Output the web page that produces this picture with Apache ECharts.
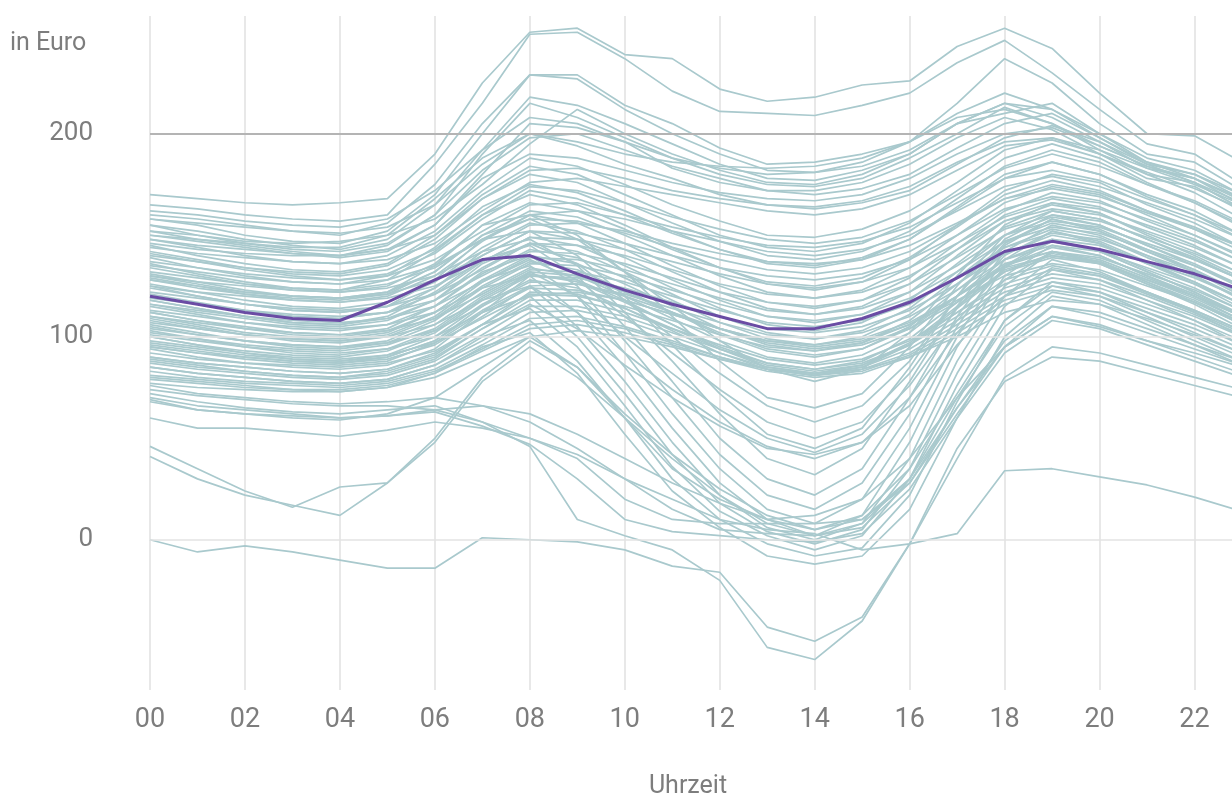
<!DOCTYPE html>
<html><head><meta charset="utf-8">
<script src="https://cdn.jsdelivr.net/npm/echarts@6/dist/echarts.min.js"></script>
<style>html,body{margin:0;padding:0;background:#fff;overflow:hidden;width:1232px;height:799px}#c{width:1242px;height:799px}</style>
</head><body><div id="c"></div>
<script>
const hours = ['00','01','02','03','04','05','06','07','08','09','10','11','12','13','14','15','16','17','18','19','20','21','22','23'];
const yTicks = [0, 100, 200];
const avgPrice = [120,116,112,109,108,117,128,138,140,131,123,116,110,104,104,109,117,129,142,147,143,137,131,123];

const topDays = [
  [170,168,166,165,166,168,190,225,250,252,239,237,222,216,218,224,226,243,252,242,220,200,199,186],
  [165,163,160,158,157,160,185,215,249,250,237,221,211,210,209,214,220,235,246,230,212,195,190,175],
  [160,158,155,152,150,156,175,205,229,229,214,205,193,185,186,190,196,215,237,225,205,190,186,172],
  [158,155,150,147,146,152,170,200,229,227,212,200,190,182,181,186,196,210,220,212,198,185,180,168],
  [155,152,148,145,143,148,165,192,218,214,205,195,185,178,177,182,190,205,215,208,196,183,178,165],
  [150,148,145,142,140,145,160,190,215,208,198,188,180,175,174,178,188,200,213,205,192,180,176,163],
  [152,150,147,146,147,150,158,175,195,212,200,190,182,176,175,180,190,205,210,215,200,186,180,170],
  [148,145,143,141,140,143,155,180,205,203,196,183,176,172,172,176,185,198,208,202,190,178,174,162]
];
const upperDays = [
  [162,160,157,155,154,158,172,192,208,205,196,188,183,180,181,184,192,205,215,212,200,188,182,170],
  [158,156,154,152,151,154,165,185,200,196,190,186,184,183,184,188,196,208,212,205,194,184,178,168],
  [155,150,146,143,142,146,160,182,198,200,192,184,178,172,170,173,180,193,205,210,198,186,178,167],
  [152,148,146,144,144,150,168,188,200,194,185,178,170,165,163,166,172,185,198,204,196,185,176,163],
  [150,147,144,141,139,142,155,178,190,188,182,176,171,168,167,170,178,190,200,203,194,184,176,166],
  [148,144,140,137,136,140,152,172,188,184,175,165,157,150,149,153,162,176,192,198,190,180,171,158],
  [146,143,141,140,140,143,150,168,182,183,178,172,168,165,164,167,174,186,196,198,192,183,175,165],
  [145,140,136,133,132,136,150,170,184,180,170,160,150,144,142,146,156,172,188,195,188,176,166,155],
  [144,141,139,137,136,138,146,162,176,178,174,170,166,162,160,163,170,182,194,197,190,181,173,163],
  [142,138,134,132,131,135,148,168,180,176,166,156,147,140,138,142,152,168,184,192,186,175,166,154],
  [141,137,134,131,130,133,143,160,174,172,166,159,153,148,146,149,157,170,183,190,184,175,167,156],
  [140,137,133,130,128,131,141,158,172,168,160,151,143,137,135,139,148,163,178,186,180,170,162,150]
];
const middleDays = [
  [139,134,130,127,126,130,144,164,175,171,162,152,143,136,134,138,148,164,180,186,180,169,160,148],
  [137,134,131,129,128,130,138,152,165,166,160,154,149,145,144,147,154,166,178,182,177,168,160,150],
  [136,131,127,124,123,128,142,160,170,165,155,144,134,126,123,127,138,155,172,180,176,165,156,144],
  [135,132,129,127,126,128,135,148,160,162,158,152,147,142,140,143,150,162,174,179,174,166,158,148],
  [134,130,126,123,122,125,136,155,166,162,153,143,134,127,125,129,139,154,170,177,172,162,153,142],
  [132,129,126,124,123,126,134,148,158,157,151,144,138,133,131,134,142,155,168,175,171,162,154,144],
  [131,127,123,120,119,122,132,150,162,159,150,140,130,122,119,123,134,150,166,174,170,160,150,139],
  [130,127,125,123,122,124,130,142,155,156,152,146,141,137,136,138,145,156,168,173,169,161,153,144],
  [129,125,121,118,117,120,130,147,160,156,146,135,125,117,114,118,129,146,162,171,167,157,148,137],
  [128,125,122,120,119,121,128,140,152,151,146,140,134,130,128,131,138,150,163,169,166,158,150,140],
  [126,122,118,115,114,117,127,144,156,152,143,132,122,114,111,115,126,143,160,168,164,154,145,134],
  [125,122,120,118,117,119,125,137,149,148,143,137,131,126,124,127,134,146,159,166,163,155,147,137],
  [124,120,116,113,112,115,124,140,152,148,139,128,118,110,107,111,122,140,157,165,161,151,142,131],
  [122,119,116,114,113,115,121,133,146,145,140,133,126,121,119,122,130,143,157,163,160,152,144,134],
  [121,117,113,110,109,112,121,137,149,145,135,124,114,106,103,107,118,136,154,162,158,148,139,128],
  [119,116,113,111,110,112,118,130,142,141,136,129,122,117,115,118,126,139,153,160,157,149,141,131],
  [118,114,110,107,106,109,118,134,146,142,132,121,110,102,99,103,114,132,150,159,155,145,136,125],
  [116,113,110,108,107,109,115,127,139,138,133,126,119,113,111,114,122,135,150,157,154,146,138,128],
  [115,111,107,104,103,106,115,131,143,139,129,118,107,99,96,100,111,129,147,156,152,142,133,122],
  [113,110,107,105,104,106,112,124,136,135,130,123,116,110,108,111,119,132,147,154,151,143,135,125],
  [112,108,104,101,100,103,112,128,140,136,126,115,104,96,93,97,108,126,144,153,149,139,130,119],
  [110,107,104,102,101,103,109,121,133,132,127,120,113,107,105,108,116,129,144,151,148,140,132,122],
  [109,105,101,98,97,100,109,125,137,133,123,112,101,93,90,94,105,123,141,150,146,136,127,116],
  [107,104,101,99,98,100,106,118,130,129,124,117,110,104,102,105,113,126,141,148,145,137,129,119],
  [106,102,98,95,94,97,106,122,134,130,120,109,98,90,87,91,102,120,138,147,143,133,124,113],
  [104,101,98,96,95,97,103,115,127,126,121,114,107,101,99,102,110,123,138,145,142,134,126,116],
  [103,99,95,92,91,94,103,119,131,127,117,106,95,87,84,88,99,117,135,144,140,130,121,110],
  [101,98,95,93,92,94,100,112,124,123,118,111,104,98,96,99,107,120,135,142,139,131,123,113],
  [100,96,92,89,88,91,100,116,128,124,114,103,92,84,81,85,96,114,132,141,137,127,118,107],
  [98,95,92,90,89,91,97,109,121,120,115,108,101,95,93,96,104,117,132,139,136,128,120,110]
];
const lowerDays = [
  [97,94,91,89,88,90,98,115,132,130,122,112,102,94,91,94,104,120,136,142,138,129,120,110],
  [95,92,90,88,87,89,96,110,125,126,120,112,104,97,94,97,106,120,134,140,137,128,119,108],
  [94,90,87,85,84,86,94,112,130,128,118,106,94,85,82,86,97,115,133,140,136,126,117,106],
  [92,89,87,86,85,87,93,106,120,122,118,111,104,98,95,98,106,118,130,136,133,125,117,107],
  [90,87,85,83,82,84,91,106,122,121,114,104,94,86,83,86,96,112,128,135,131,122,113,103],
  [89,86,83,81,80,82,89,104,118,118,112,104,96,89,86,89,98,112,126,133,130,122,113,103],
  [87,84,82,80,79,81,88,101,115,115,110,102,94,87,84,87,96,110,124,131,128,120,111,101],
  [85,82,80,78,77,79,86,98,112,113,108,100,92,85,82,85,94,108,122,129,126,118,110,100],
  [83,80,78,77,76,78,84,96,109,110,105,98,90,84,81,84,92,106,120,127,124,116,108,98],
  [81,79,77,76,75,77,83,94,106,108,104,97,90,84,81,83,91,104,118,125,122,114,106,96],
  [79,77,75,74,74,76,82,93,104,106,102,96,89,83,80,82,90,102,116,123,120,112,104,94],
  [77,75,74,73,73,75,80,90,100,103,100,95,89,84,82,84,90,100,112,118,116,109,101,92]
];
const solarDays = [
  [130,126,122,120,119,122,135,155,160,150,132,110,88,70,65,72,95,125,150,162,158,148,138,128],
  [125,120,116,113,112,115,128,148,152,140,120,96,72,52,45,55,85,120,148,160,155,145,135,124],
  [120,116,112,110,109,112,124,142,148,135,112,88,62,40,32,45,78,115,145,158,152,142,132,120],
  [118,114,110,107,106,110,122,138,145,130,105,78,50,30,22,35,70,110,142,155,150,140,130,118],
  [112,108,105,102,101,104,115,132,140,125,98,70,42,22,15,28,62,105,138,152,146,136,126,114],
  [110,106,102,100,99,102,112,128,135,120,92,62,35,15,8,20,55,100,135,148,142,132,122,110],
  [105,101,98,96,95,98,108,124,130,112,85,55,28,10,2,12,48,95,130,145,140,130,120,108],
  [100,96,93,91,90,93,102,118,125,105,78,48,22,6,0,8,40,88,125,142,136,126,116,104],
  [95,92,89,87,86,88,97,112,120,100,72,42,18,4,-2,5,35,82,120,138,132,122,112,100],
  [90,87,85,83,82,84,92,106,114,95,66,36,14,2,-5,2,30,76,115,133,128,118,108,96],
  [85,82,80,78,77,79,86,100,108,88,60,30,10,-2,-8,-4,22,68,108,127,122,112,102,92],
  [80,78,76,74,73,75,82,95,102,82,52,24,6,-8,-12,-8,15,60,100,120,116,106,96,86],
  [70,66,64,62,60,61,64,66,62,52,40,28,18,10,5,10,28,62,95,115,112,104,96,88],
  [46,35,24,16,26,28,48,78,95,80,60,40,22,8,2,8,30,70,105,122,118,108,98,88],
  [41,30,22,17,12,28,50,80,98,85,62,42,25,12,5,12,35,72,108,125,120,110,100,90],
  [0,-6,-3,-6,-10,-14,-14,1,0,-1,-5,-13,-16,-43,-50,-38,-2,45,78,90,88,82,76,70],
  [72,68,65,63,62,64,66,58,46,10,2,-5,-20,-53,-59,-40,-2,40,80,95,92,86,80,74],
  [69,64,62,60,59,62,70,85,100,85,60,35,20,10,12,20,40,70,95,110,106,98,90,82],
  [74,71,69,67,66,66,64,58,50,42,30,20,10,5,3,-5,-2,3,34,35,31,27,21,14]
];
const dipDays = [
  [128,124,121,119,118,121,132,150,158,148,132,115,98,84,78,84,102,130,155,166,161,150,140,129],
  [116,112,109,106,105,108,118,136,146,136,118,100,82,66,58,66,88,120,146,158,153,143,133,121],
  [108,104,101,99,98,101,110,127,138,128,110,92,74,58,50,58,82,114,140,152,147,137,127,116],
  [102,99,96,94,93,96,104,120,132,120,100,82,64,50,43,52,76,108,134,147,142,132,122,111],
  [96,93,90,88,87,90,98,113,125,112,92,74,58,46,40,48,70,102,128,142,137,127,117,106],
  [88,85,83,81,80,83,90,104,116,104,86,70,56,45,42,48,66,96,120,134,130,121,112,102],
  [60,55,55,53,51,54,58,55,50,40,20,10,8,8,8,10,30,65,95,110,105,98,92,85],
  [68,64,62,61,60,61,63,56,47,30,10,4,2,0,-1,3,25,60,92,108,104,96,88,80],
  [76,72,70,68,67,68,70,66,58,45,30,15,5,3,2,6,28,65,98,115,110,102,94,86]
];

const FONT = 'Roboto, "Noto Sans", sans-serif';
const GREY = '#a9c9cd';
const allDays = [].concat(topDays, upperDays, middleDays, lowerDays, solarDays, dipDays);

const series = [{
  type: 'line', data: [], silent: true, z: 1, symbol: 'none',
  markLine: {
    silent: true, symbol: 'none', animation: false, label: {show: false},
    data: yTicks.map(v => ({
      yAxis: v,
      lineStyle: {color: v === 200 ? '#b4b4b4' : '#e3e3e3', width: v === 200 ? 2 : 1.5, type: 'solid'}
    }))
  }
}];
allDays.forEach(d => series.push({
  type: 'line', data: d, symbol: 'none', silent: true, z: 2,
  lineStyle: {color: GREY, width: 1.7}
}));
series.push({
  type: 'line', data: avgPrice, symbol: 'none', silent: true, z: 3,
  lineStyle: {color: '#6a4ca4', width: 3}
});

const chart = echarts.init(document.getElementById('c'), null, {renderer: 'canvas'});
chart.setOption({
  animation: false,
  backgroundColor: '#ffffff',
  grid: {left: 150, right: 0, top: 16, bottom: 109, containLabel: false},
  xAxis: {
    type: 'category', data: hours, boundaryGap: false,
    axisLine: {show: false}, axisTick: {show: false},
    axisLabel: {interval: 1, color: '#7d7d7d', fontSize: 27, fontFamily: FONT, margin: 17},
    splitLine: {show: true, interval: 1, lineStyle: {color: '#e0e0e0', width: 1.5}}
  },
  yAxis: {
    type: 'value', min: -74, max: 258,
    axisLine: {show: false}, axisTick: {show: false}, splitLine: {show: false},
    axisLabel: {
      customValues: yTicks,
      formatter: v => (yTicks.indexOf(v) >= 0 ? String(v) : ''),
      color: '#7d7d7d', fontSize: 26, fontFamily: FONT, margin: 57
    }
  },
  graphic: [
    {type: 'text', x: 10, y: 44, style: {text: 'in Euro', fill: '#7d7d7d', fontSize: 25, fontFamily: FONT, textVerticalAlign: 'middle'}},
    {type: 'text', x: 688, y: 787, style: {text: 'Uhrzeit', fill: '#7d7d7d', fontSize: 25, fontFamily: FONT, textAlign: 'center', textVerticalAlign: 'middle'}}
  ],
  series: series
});
</script></body></html>
